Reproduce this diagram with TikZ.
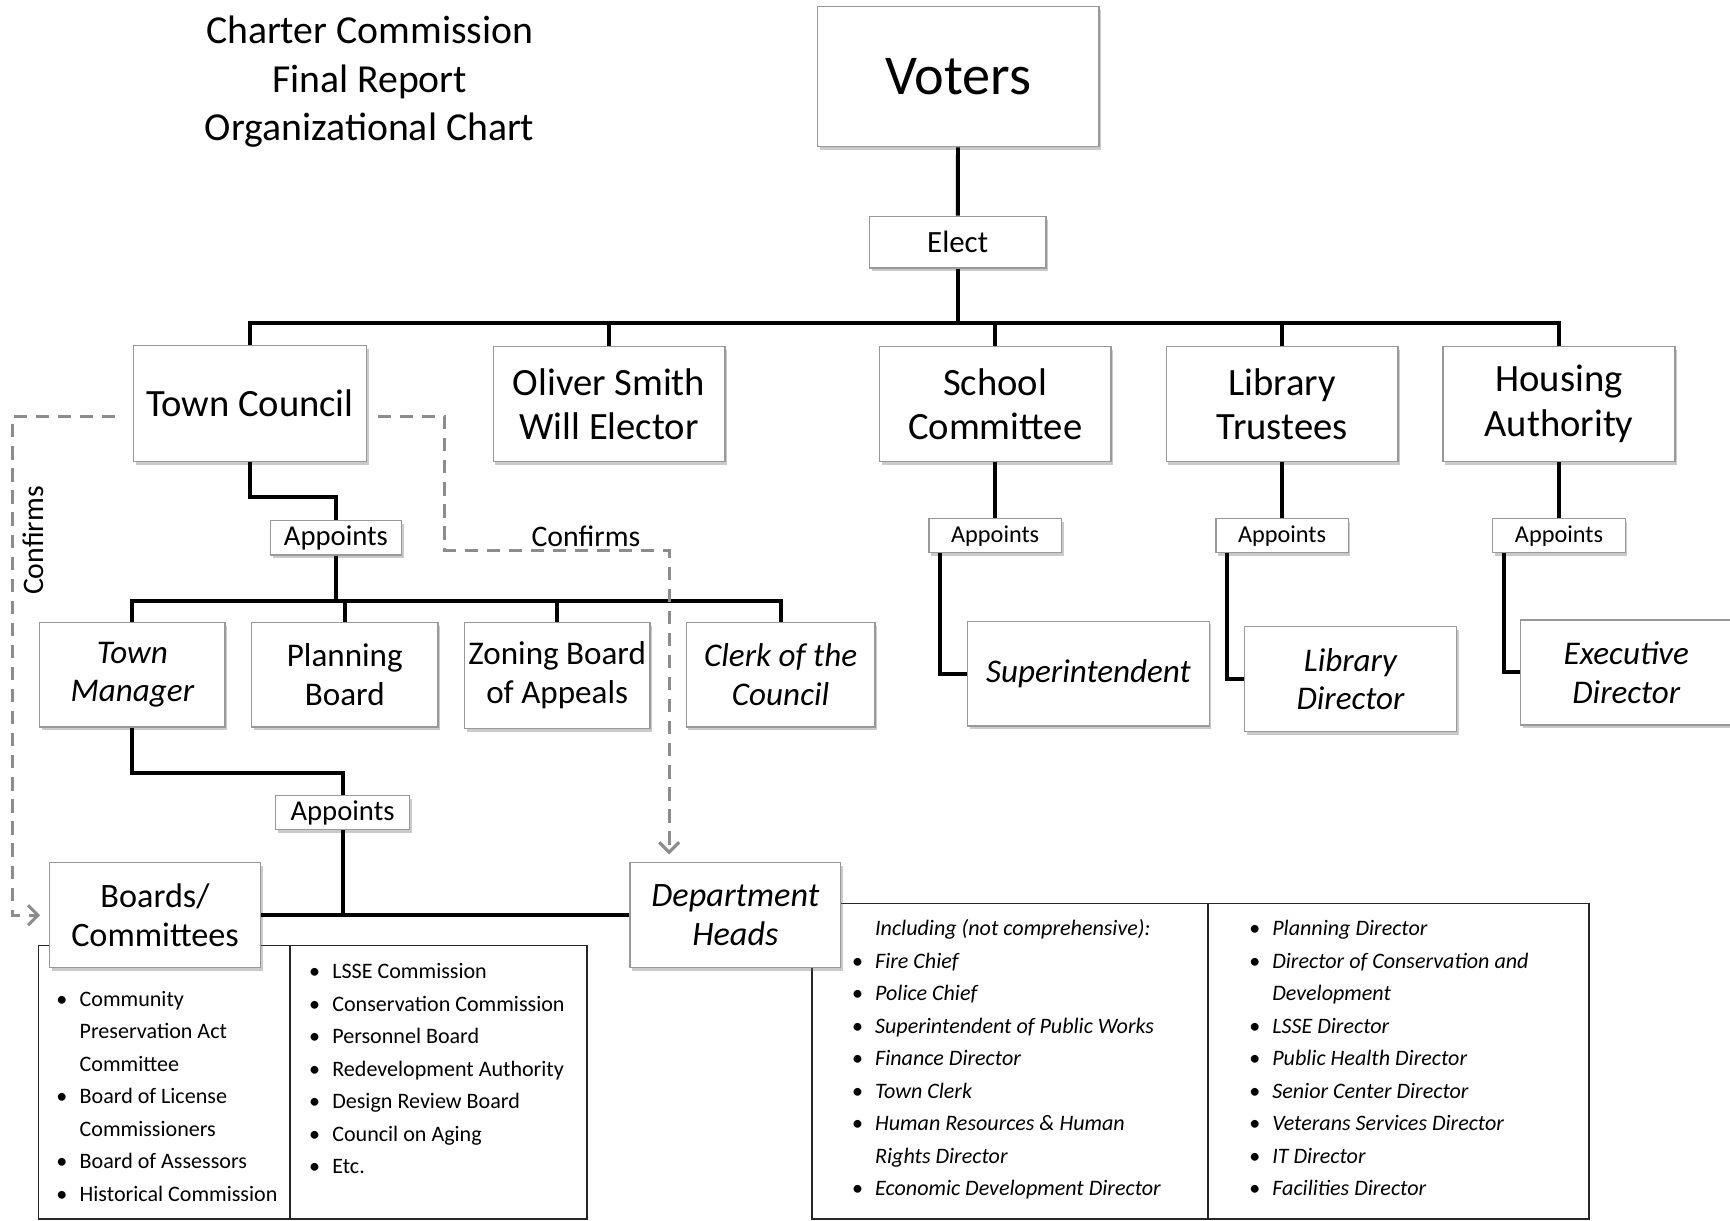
\documentclass[tikz,border=0pt]{standalone}
\usepackage{fontspec}
\setmainfont{Carlito}
\usetikzlibrary{positioning,shadows,arrows.meta,calc}

\newcommand{\fs}[2]{\fontsize{#1}{#2}\selectfont}
\newcommand{\bl}{\makebox[21pt][l]{\strut\textbullet}}
\newcommand{\nb}{\makebox[21pt][l]{\strut}}

\begin{document}
\begin{tikzpicture}[x=1pt,y=-1pt,
  box/.style={draw=black!40,line width=1.2pt,fill=white,align=center,inner sep=0pt,
    drop shadow={shadow xshift=2pt,shadow yshift=-3pt,opacity=.35,fill=black!60}},
  link/.style={line width=3.6pt},
  confirm/.style={draw=black!45,line width=2.6pt,dash pattern=on 12pt off 8pt,
    -{Straight Barb[length=9pt,width=18pt,line width=2.8pt]}},
  listbox/.style={draw=black!85,line width=1.3pt},
  items/.style={anchor=north west,align=left,inner sep=0pt,font=\fs{20}{29.5}}
]
\useasboundingbox (0,0) rectangle (1568,1106);

% lists under the bottom boxes
\draw[listbox] (35,857) rectangle (532,1105);
\draw[listbox] (263,857) -- (263,1105);
\draw[listbox] (736,819) rectangle (1440,1105);
\draw[listbox] (1095,819) -- (1095,1105);

\node[items] (bdleft) at (51,891) {\bl Community\\ \nb Preservation Act\\ \nb Committee\\
  \bl Board of License\\ \nb Commissioners\\ \bl Board of Assessors\\ \bl Historical Commission};
\node[items] (bdright) at (280,866) {\bl LSSE Commission\\ \bl Conservation Commission\\
  \bl Personnel Board\\ \bl Redevelopment Authority\\ \bl Design Review Board\\
  \bl Council on Aging\\ \bl Etc.};
\node[items,font=\fs{20}{29.5}\itshape] (dhleft) at (772,827) {\nb Including (not comprehensive):\\
  \bl Fire Chief\\ \bl Police Chief\\ \bl Superintendent of Public Works\\ \bl Finance Director\\
  \bl Town Clerk\\ \bl Human Resources \& Human\\ \nb Rights Director\\ \bl Economic Development Director};
\node[items,font=\fs{20}{29.5}\itshape] (dhright) at (1132,827) {\bl Planning Director\\
  \bl Director of Conservation and\\ \nb Development\\ \bl LSSE Director\\ \bl Public Health Director\\
  \bl Senior Center Director\\ \bl Veterans Services Director\\ \bl IT Director\\ \bl Facilities Director};

% title
\node[align=center,font=\fs{36}{44}] (title) at (335,74) {Charter Commission\\Final Report\\Organizational Chart};

% elected
\node[box,minimum width=255,minimum height=127,font=\fs{51}{60}] (voters) at (868.5,69.5) {Voters};
\node[box,minimum width=160,minimum height=47,font=\fs{28}{32}] (elect) at (868,219.5) {Elect};
\node[box,minimum width=211,minimum height=105,font=\fs{35}{40}] (council) at (226.5,365.5) {Town Council};
\node[box,minimum width=210,minimum height=104,font=\fs{35}{40}] (oliver) at (552,366) {Oliver Smith\\Will Elector};
\node[box,minimum width=210,minimum height=104,font=\fs{35}{40}] (school) at (902,366) {School\\Committee};
\node[box,minimum width=210,minimum height=104,font=\fs{35}{40}] (trustees) at (1162,366) {Library\\Trustees};
\node[box,minimum width=210,minimum height=104,font=\fs{35}{40}] (housing) at (1413,366) {Housing\\Authority};

% appointed by the council
\node[box,minimum width=119,minimum height=31,font=\fs{26}{30}] (tcapp) at (304.5,487.5) {Appoints};
\node[box,minimum width=168,minimum height=95,font=\fs{30}{35}\itshape] (manager) at (120,611.5) {Town\\Manager};
\node[box,minimum width=169,minimum height=95,font=\fs{30}{35}] (planning) at (312.5,611.5) {Planning\\Board};
\node[box,minimum width=168,minimum height=96,font=\fs{30}{35}] (zoning) at (505,612) {Zoning Board\\of Appeals};
\node[box,minimum width=171,minimum height=95,font=\fs{30}{35}\itshape] (clerk) at (707.5,611.5) {Clerk of the\\Council};

% appointed by the manager
\node[box,minimum width=121,minimum height=31,font=\fs{26}{30}] (tmapp) at (310.5,736.5) {Appoints};
\node[box,minimum width=191,minimum height=95,font=\fs{31}{35}] (boards) at (140.5,829.5) {Boards/\\Committees};
\node[box,minimum width=191,minimum height=95,font=\fs{31}{35}\itshape] (dept) at (666.5,829.5) {Department\\Heads};

% appointed by the other boards
\node[box,minimum width=120,minimum height=31,font=\fs{22}{26}] (scapp) at (902,485.5) {Appoints};
\node[box,minimum width=120,minimum height=31,font=\fs{22}{26}] (libapp) at (1162,485.5) {Appoints};
\node[box,minimum width=120,minimum height=31,font=\fs{22}{26}] (hsapp) at (1413,485.5) {Appoints};
\node[box,minimum width=219,minimum height=95,font=\fs{30}{35}\itshape] (super) at (986.5,610.5) {Superintendent};
\node[box,minimum width=192,minimum height=95,font=\fs{30}{35}\itshape] (libdir) at (1224,615.5) {Library\\Director};
\node[box,minimum width=192,minimum height=95,font=\fs{30}{35}\itshape] (execdir) at (1474,609.5) {Executive\\Director};

% the lines
\coordinate (bus) at (868,293);
\draw[link] (voters) -- (elect);
\draw[link] (elect) -- (bus);
\draw[link] (council.north) |- (bus) -| (housing.north);
\foreach \n in {oliver,school,trustees}
  \draw[link] (\n.north) -- (\n.north |- bus);

\coordinate (bus2) at ($(tcapp.south)+(0,41)$);
\draw[link] (council.south) -- ++(0,32) -| (tcapp.north);
\draw[link] (tcapp.south) -- (bus2);
\draw[link] (manager.north) |- (bus2) -| (clerk.north);
\foreach \n in {planning,zoning}
  \draw[link] (\n.north) -- (\n.north |- bus2);

\draw[link] (manager.south) -- ++(0,41) -| (tmapp.north);
\draw[link] (tmapp.south) -- (tmapp.south |- boards.east);
\draw[link] (boards.east) -- (dept.west);

\draw[link] (school) -- (scapp);
\draw[link] (trustees) -- (libapp);
\draw[link] (housing) -- (hsapp);
\draw[link] ([xshift=11pt]scapp.south west) |- (super.west);
\draw[link] ([xshift=11pt]libapp.south west) |- (libdir.west);
\draw[link] ([xshift=11pt]hsapp.south west) |- (execdir.west);

% confirmation
\coordinate (cbend) at (403,499);
\draw[confirm] ([xshift=-16pt,yshift=-12pt]council.west) -| ([xshift=-33pt]boards.west) -- ([xshift=-8pt]boards.west);
\draw[confirm] ([xshift=10pt,yshift=-12pt]council.east) -| (cbend) -| ([xshift=-60pt,yshift=7pt]dept.north);
\node[rotate=90,font=\fs{27}{30}] (cfleft) at (30,490) {Confirms};
\node[font=\fs{27}{30}] (cfright) at (531,486) {Confirms};
\end{tikzpicture}
\end{document}
